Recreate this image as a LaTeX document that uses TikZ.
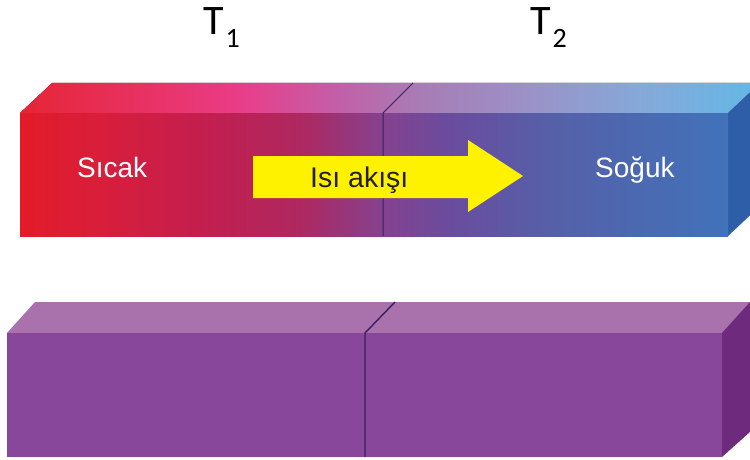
\documentclass[tikz,border=0pt]{standalone}
\usepackage{fontspec}
\setmainfont{Liberation Sans}
\newfontfamily\labelfont{Carlito}
\usetikzlibrary{calc}

% colours of the heated bar (front face, left to right)
\definecolor{fA}{HTML}{E31B2A}
\definecolor{fB}{HTML}{D81E3A}
\definecolor{fC}{HTML}{C41E4E}
\definecolor{fD}{HTML}{AE2860}
\definecolor{fE}{HTML}{84428F}
\definecolor{fF}{HTML}{6A4C9E}
\definecolor{fG}{HTML}{5560A8}
\definecolor{fH}{HTML}{4A6AB2}
\definecolor{fI}{HTML}{4272BA}
% top face of the heated bar
\definecolor{tA}{HTML}{E52535}
\definecolor{tB}{HTML}{E8305E}
\definecolor{tC}{HTML}{EA3D88}
\definecolor{tD}{HTML}{C65CA6}
\definecolor{tE}{HTML}{A87CB5}
\definecolor{tF}{HTML}{9A92C8}
\definecolor{tG}{HTML}{86A8D8}
\definecolor{tH}{HTML}{62B8E6}
\definecolor{coldside}{HTML}{2F5EA8}
% the bar at equilibrium
\definecolor{eqfront}{HTML}{88479A}
\definecolor{eqtop}{HTML}{A972AC}
\definecolor{eqside}{HTML}{6E2A7D}
\definecolor{seam}{HTML}{35215E}
\definecolor{flow}{HTML}{FFF200}
\definecolor{flowtext}{HTML}{231F20}

% the path spans 25bp..75bp of each shading
\pgfdeclarehorizontalshading{hotfront}{100bp}{%
  color(0bp)=(fA); color(25bp)=(fA); color(30.6bp)=(fB); color(37.7bp)=(fC);
  color(44.8bp)=(fD); color(50.6bp)=(fE); color(55.4bp)=(fF); color(62.4bp)=(fG);
  color(69.5bp)=(fH); color(75bp)=(fI); color(100bp)=(fI)}
\pgfdeclarehorizontalshading{hottop}{100bp}{%
  color(0bp)=(tA); color(25bp)=(tA); color(32.4bp)=(tB); color(39.9bp)=(tC);
  color(45.9bp)=(tD); color(52bp)=(tE); color(59.5bp)=(tF); color(66.9bp)=(tG);
  color(75bp)=(tH); color(100bp)=(tH)}

\tikzset{
  seamline/.style={draw=seam, line width=1pt},
  barlabel/.style={text=white, font=\fontsize{28}{30}\selectfont, anchor=base west, inner sep=0pt},
  templabel/.style={font=\labelfont\fontsize{42}{44}\selectfont, anchor=base west, inner sep=0pt},
  flowlabel/.style={text=flowtext, font=\fontsize{28.5}{30}\selectfont, anchor=base west, inner sep=0pt}
}

\begin{document}
\begin{tikzpicture}[x=1pt,y=-1pt]
  \useasboundingbox (0,0) rectangle (750,460);
  \clip (0,0) rectangle (750,460);

  % temperature labels
  \node[templabel] (t1) at (203,35) {T\kern2pt\raisebox{-13pt}{\fontsize{28}{30}\selectfont 1}};
  \node[templabel] (t2) at (530,35) {T\kern2pt\raisebox{-13pt}{\fontsize{28}{30}\selectfont 2}};

  % heated bar: top, side and front faces
  \fill[shading=hottop] (20,113) -- (52,83) -- (760,83) -- (728,113) -- cycle;
  \fill[coldside] (728,113) -- (760,83) -- (760,206) -- (728,236) -- cycle;
  \fill[shading=hotfront] (20,113) rectangle (728,236);
  \draw[seamline] (383,236) -- (383,113) -- (413,83);

  % heat flow arrow
  \fill[flow] (253,156) -- (468,156) -- (468,140) -- (523,176)
              -- (468,212) -- (468,198) -- (253,198) -- cycle;
  \node[flowlabel] (flowtext) at (310,187) {Isı akışı};

  \node[barlabel] (hot)  at (77,177)  {Sıcak};
  \node[barlabel] (cold) at (595,177) {Soğuk};

  % bar after reaching equilibrium
  \fill[eqtop] (7,333) -- (35,302) -- (760,302) -- (722,333) -- cycle;
  \fill[eqside] (722,333) -- (760,291) -- (760,423) -- (722,457) -- cycle;
  \fill[eqfront] (7,333) rectangle (722,457);
  \draw[seamline, line width=1.4pt] (365,457) -- (365,333) -- (395,302);
\end{tikzpicture}
\end{document}
